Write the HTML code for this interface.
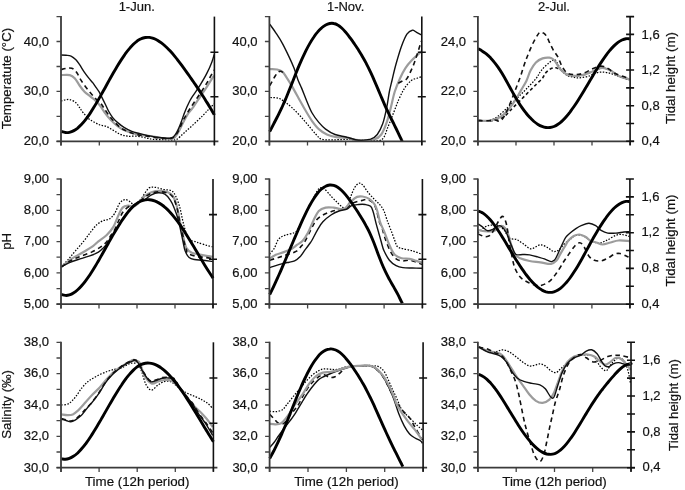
<!DOCTYPE html><html><head><meta charset="utf-8"><style>html,body{margin:0;padding:0;background:#fff;width:685px;height:490px;overflow:hidden}svg{display:block;filter:grayscale(1)}text{font-family:"Liberation Sans",sans-serif;fill:#111;stroke:#111;stroke-width:0.2px;font-size:13px}path{fill:none;stroke-linejoin:round}</style></head><body>
<svg width="685" height="490" viewBox="0 0 685 490">
<defs>
<clipPath id="c00"><rect x="58.0" y="13.6" width="159.4" height="127.7"/></clipPath>
<clipPath id="c01"><rect x="266.4" y="13.6" width="158.4" height="127.7"/></clipPath>
<clipPath id="c02"><rect x="474.9" y="13.6" width="158.2" height="127.7"/></clipPath>
<clipPath id="c10"><rect x="58.0" y="176.0" width="158.0" height="128.2"/></clipPath>
<clipPath id="c11"><rect x="266.4" y="176.0" width="159.0" height="128.2"/></clipPath>
<clipPath id="c12"><rect x="474.9" y="176.0" width="158.0" height="128.2"/></clipPath>
<clipPath id="c20"><rect x="58.0" y="339.3" width="158.4" height="128.4"/></clipPath>
<clipPath id="c21"><rect x="266.6" y="339.3" width="159.5" height="128.4"/></clipPath>
<clipPath id="c22"><rect x="474.9" y="339.3" width="159.1" height="128.4"/></clipPath>
</defs>
<text x="136.7" y="11.2" text-anchor="middle">1-Jun.</text>
<text x="345.6" y="11.2" text-anchor="middle">1-Nov.</text>
<text x="554.0" y="11.2" text-anchor="middle">2-Jul.</text>
<g clip-path="url(#c00)">
<path d="M61.0 101.0C61.7 100.8 63.5 100.2 65.0 100.0C66.5 99.8 68.0 99.1 69.8 99.6C71.6 100.0 74.3 101.4 75.9 102.7C77.5 104.0 78.4 106.0 79.6 107.6C80.8 109.2 81.4 110.6 83.0 112.5C84.6 114.4 87.0 117.3 89.0 119.0C91.0 120.7 93.2 121.5 95.0 122.5C96.8 123.5 98.3 124.4 100.0 125.0C101.7 125.6 103.5 125.5 105.3 126.1C107.1 126.7 108.8 127.7 110.6 128.7C112.4 129.7 114.1 130.9 115.9 131.9C117.7 132.9 119.2 133.9 121.2 134.6C123.2 135.3 124.9 135.9 127.6 136.2C130.3 136.5 134.0 135.9 137.2 136.2C140.4 136.5 143.9 137.5 146.6 138.0C149.2 138.5 150.4 139.0 153.1 139.3C155.8 139.6 160.2 139.5 163.0 139.6C165.8 139.7 167.8 139.9 169.6 140.0C171.3 140.1 172.3 140.0 173.5 139.9C174.7 139.8 175.1 140.6 176.9 139.3C178.8 138.1 181.7 135.0 184.6 132.4C187.5 129.8 191.2 126.6 194.2 123.8C197.2 121.0 200.4 118.0 202.8 115.6C205.2 113.2 206.7 111.3 208.6 109.4C210.5 107.5 213.1 104.9 214.0 104.0" stroke="#000" stroke-width="1.25" stroke-dasharray="1.5 1.5"/>
<path d="M61.0 75.1C62.5 75.1 67.5 74.6 69.8 75.1C72.1 75.6 73.1 76.5 74.7 78.2C76.3 79.9 78.0 83.2 79.6 85.5C81.2 87.8 82.7 89.9 84.5 91.7C86.3 93.5 88.8 95.1 90.6 96.6C92.4 98.1 93.9 99.1 95.5 100.6C97.1 102.1 98.6 103.7 100.2 105.8C101.8 107.9 103.6 111.1 105.3 113.4C107.0 115.7 108.6 117.7 110.6 119.7C112.5 121.7 114.9 123.9 117.0 125.6C119.1 127.3 120.9 128.6 123.4 129.8C125.9 131.0 128.6 132.1 131.8 133.0C135.0 133.9 139.5 134.6 142.5 135.1C145.5 135.6 147.1 135.6 150.0 136.0C152.9 136.4 157.0 137.4 160.0 137.8C163.0 138.2 166.0 138.5 168.0 138.6C170.0 138.7 170.9 138.6 172.0 138.4C173.1 138.2 173.7 138.1 174.5 137.5C175.3 136.9 176.0 135.9 176.8 134.7C177.6 133.5 178.5 131.7 179.4 130.1C180.3 128.5 181.1 126.8 182.0 124.9C182.9 123.1 184.1 120.7 185.0 119.0C185.9 117.3 186.1 116.5 187.5 114.5C188.9 112.5 191.3 109.8 193.4 106.8C195.5 103.8 197.9 100.1 200.1 96.8C202.3 93.5 204.5 90.3 206.8 86.8C209.1 83.2 212.8 77.4 214.0 75.5" stroke="#9c9c9c" stroke-width="2.2"/>
<path d="M61.0 69.6C62.3 69.3 66.5 68.2 68.6 68.1C70.7 68.0 72.1 68.1 73.5 69.0C74.9 69.9 76.0 71.5 77.2 73.3C78.4 75.1 79.4 77.5 80.8 79.8C82.2 82.1 84.1 84.8 85.7 87.0C87.3 89.2 89.0 91.1 90.6 93.0C92.2 94.9 93.9 96.8 95.5 98.5C97.1 100.2 99.0 101.5 100.4 103.0C101.8 104.5 102.4 105.7 103.8 107.8C105.2 109.9 107.2 113.1 109.0 115.5C110.8 117.9 112.9 120.3 114.9 122.4C116.9 124.5 118.9 126.6 121.2 128.2C123.5 129.8 126.0 130.8 128.7 131.9C131.4 133.0 134.0 133.9 137.2 134.6C140.4 135.3 144.3 135.7 147.8 136.2C151.3 136.7 154.6 137.4 158.0 137.8C161.4 138.2 165.8 138.5 168.0 138.6C170.2 138.7 170.4 138.7 171.5 138.3C172.6 138.0 173.5 137.5 174.5 136.5C175.5 135.5 176.5 134.2 177.5 132.5C178.5 130.8 179.6 128.5 180.5 126.5C181.4 124.5 182.2 122.1 183.0 120.5C183.8 118.9 183.9 118.9 185.1 116.9C186.3 114.9 188.1 111.6 190.1 108.5C192.1 105.4 194.6 101.8 196.8 98.5C199.0 95.2 201.6 91.5 203.5 88.4C205.4 85.3 206.8 83.2 208.5 80.1C210.2 77.0 213.1 71.7 214.0 70.0" stroke="#111" stroke-width="1.6" stroke-dasharray="4.6 3.6"/>
<path d="M61.0 55.0C61.8 55.0 64.3 55.1 66.0 55.3C67.7 55.5 69.3 55.4 71.0 56.1C72.7 56.9 74.5 58.4 75.9 59.8C77.3 61.2 78.2 62.7 79.6 64.7C81.0 66.8 82.8 69.9 84.3 72.1C85.8 74.3 87.2 76.1 88.6 77.9C90.0 79.7 91.6 81.2 92.9 82.9C94.2 84.6 95.3 86.4 96.4 87.9C97.5 89.4 98.5 90.7 99.3 92.1C100.1 93.5 100.4 94.4 101.4 96.4C102.4 98.4 104.1 101.8 105.3 104.2C106.5 106.6 107.3 108.8 108.5 111.0C109.7 113.2 111.1 115.6 112.7 117.6C114.3 119.6 116.0 121.2 118.0 122.9C120.0 124.6 122.1 126.3 124.4 127.7C126.7 129.1 129.3 130.4 131.8 131.4C134.3 132.4 136.6 132.8 139.3 133.5C142.0 134.2 144.9 135.0 147.8 135.6C150.8 136.2 154.3 136.9 157.0 137.3C159.7 137.7 162.2 137.8 164.0 138.0C165.8 138.2 166.8 138.3 168.0 138.3C169.2 138.3 170.0 138.3 170.9 138.0C171.8 137.7 172.6 137.5 173.5 136.7C174.4 135.9 175.2 134.8 176.1 133.4C177.0 132.0 177.9 130.1 178.8 128.1C179.7 126.1 180.6 123.8 181.4 121.6C182.2 119.4 182.8 117.3 183.7 115.0C184.6 112.7 185.6 109.9 186.7 107.5C187.8 105.1 188.9 102.6 190.0 100.5C191.1 98.4 191.7 97.7 193.4 95.1C195.1 92.5 197.9 88.7 200.1 85.1C202.3 81.5 204.9 77.2 206.8 73.4C208.8 69.6 210.6 65.5 211.8 62.3C213.0 59.1 213.8 55.8 214.2 54.5" stroke="#111" stroke-width="1.4"/>
<path d="M61.4 131.5C62.1 131.7 64.1 132.4 65.4 132.5C66.7 132.7 68.1 132.6 69.4 132.3C70.7 132.0 72.1 131.6 73.4 130.9C74.7 130.2 76.1 129.3 77.4 128.3C78.7 127.2 80.1 126.0 81.4 124.6C82.7 123.2 84.1 121.6 85.4 119.9C86.7 118.2 88.1 116.3 89.4 114.4C90.7 112.4 92.1 110.3 93.4 108.1C94.7 106.0 96.1 103.7 97.4 101.4C98.7 99.1 100.1 96.7 101.4 94.4C102.7 92.0 104.1 89.6 105.4 87.2C106.7 84.8 108.1 82.3 109.4 79.9C110.7 77.6 112.1 75.2 113.4 72.8C114.7 70.5 116.1 68.2 117.4 66.0C118.7 63.8 120.1 61.6 121.4 59.6C122.7 57.6 124.1 55.6 125.4 53.7C126.7 51.9 128.1 50.1 129.4 48.6C130.7 47.0 132.1 45.5 133.4 44.2C134.7 42.9 136.1 41.8 137.4 40.8C138.7 39.9 140.1 39.1 141.4 38.6C142.7 38.0 144.1 37.7 145.4 37.5C146.7 37.3 148.1 37.3 149.4 37.4C150.7 37.6 152.1 37.9 153.4 38.4C154.7 38.9 156.1 39.5 157.4 40.2C158.7 41.0 160.1 41.9 161.4 42.9C162.7 43.9 164.1 45.0 165.4 46.3C166.7 47.5 168.1 48.8 169.4 50.2C170.7 51.6 172.1 53.1 173.4 54.7C174.7 56.3 176.1 57.9 177.4 59.6C178.7 61.3 180.1 63.1 181.4 64.9C182.7 66.7 184.1 68.5 185.4 70.4C186.7 72.2 188.1 74.1 189.4 76.0C190.7 77.9 192.1 79.8 193.4 81.7C194.7 83.7 196.1 85.6 197.4 87.6C198.7 89.6 200.1 91.6 201.4 93.7C202.7 95.7 204.1 97.8 205.4 99.9C206.7 102.1 208.1 104.2 209.4 106.5C210.7 108.7 212.6 111.9 213.4 113.3C214.2 114.7 214.2 114.6 214.3 114.9" stroke="#000" stroke-width="2.9"/>
</g>
<path d="M61.0 16.0V145.5" stroke="#3a3a3a" stroke-width="1.8"/>
<path d="M56.5 141.3H61.0M56.5 116.4H61.0M56.5 91.4H61.0M56.5 66.5H61.0M56.5 41.5H61.0M56.5 16.6H61.0M61.0 141.3V145.5M99.3 141.3V145.5M137.7 141.3V145.5M176.1 141.3V145.5M214.4 141.3V145.5" stroke="#444" stroke-width="1.3"/>
<text x="49.1" y="45.5" text-anchor="end">40,0</text>
<text x="49.1" y="95.4" text-anchor="end">30,0</text>
<text x="49.1" y="145.3" text-anchor="end">20,0</text>
<path d="M56.5 141.3H218.4" stroke="#3a3a3a" stroke-width="1.8"/>
<path d="M214.4 16.6V145.3" stroke="#111" stroke-width="1.6"/>
<path d="M210.4 52.2H218.4M210.4 96.8H218.4" stroke="#111" stroke-width="1.6"/>
<g clip-path="url(#c01)">
<path d="M270.4 97.5C271.8 97.6 276.0 97.4 278.5 98.2C281.0 99.0 283.0 100.6 285.2 102.2C287.4 103.8 289.4 105.3 291.9 107.6C294.4 109.8 297.3 112.8 300.0 115.7C302.7 118.6 305.4 122.0 308.1 125.1C310.8 128.2 313.9 132.2 316.1 134.5C318.3 136.8 318.8 138.3 321.5 139.2C324.2 140.1 328.1 139.9 332.3 139.9C336.6 139.9 341.6 139.4 347.0 139.4C352.4 139.4 359.3 139.9 365.0 140.0C370.7 140.1 377.4 142.2 381.3 139.9C385.2 137.7 386.1 131.0 388.1 126.5C390.1 122.0 391.7 117.5 393.5 113.0C395.3 108.5 397.0 103.5 398.8 99.5C400.6 95.5 402.2 91.9 404.2 88.8C406.2 85.7 408.8 82.5 411.0 80.7C413.2 78.9 415.9 78.7 417.7 78.0C419.5 77.3 421.0 76.8 421.7 76.6" stroke="#000" stroke-width="1.25" stroke-dasharray="1.5 1.5"/>
<path d="M269.7 69.2C270.9 69.2 275.0 69.0 277.1 69.5C279.2 70.0 280.9 70.6 282.5 71.9C284.1 73.2 284.9 74.9 286.5 77.3C288.1 79.7 289.9 82.6 291.9 86.1C293.9 89.6 296.4 94.2 298.6 98.2C300.9 102.2 303.1 106.5 305.4 110.3C307.6 114.1 309.9 118.0 312.1 121.1C314.3 124.2 316.3 126.9 318.8 129.1C321.3 131.3 324.0 133.2 326.9 134.5C329.8 135.8 332.9 136.6 336.3 137.2C339.7 137.8 343.3 137.4 347.0 137.9C350.7 138.4 353.9 140.0 358.5 140.2C363.1 140.4 370.8 140.1 374.6 139.2C378.4 138.2 379.3 137.3 381.3 134.5C383.3 131.7 385.1 126.9 386.7 122.4C388.3 117.9 389.4 112.8 390.8 107.6C392.2 102.4 393.2 96.4 394.8 91.5C396.4 86.6 398.4 82.0 400.2 78.0C402.0 74.0 403.6 70.8 405.6 67.8C407.6 64.8 409.7 62.6 412.3 59.8C414.9 57.0 420.0 52.6 421.5 51.2" stroke="#9c9c9c" stroke-width="2.2"/>
<path d="M269.8 85.6C270.2 84.8 271.4 82.7 272.4 81.0C273.3 79.3 274.5 77.0 275.5 75.5C276.5 74.0 277.5 72.6 278.5 71.9C279.5 71.2 280.6 71.2 281.5 71.5C282.4 71.8 283.6 73.2 284.0 73.5" stroke="#111" stroke-width="1.6" stroke-dasharray="4.6 3.6"/>
<path d="M398.3 83.2C399.1 82.8 401.5 81.5 402.9 80.7C404.3 79.9 405.3 80.8 406.9 78.6C408.5 76.4 410.7 71.4 412.3 67.8C413.9 64.2 415.1 60.7 416.3 57.1C417.5 53.5 418.8 49.0 419.7 46.3C420.6 43.6 421.2 41.8 421.5 40.9" stroke="#111" stroke-width="1.6" stroke-dasharray="4.6 3.6"/>
<path d="M269.7 24.1C270.7 25.6 273.7 29.5 275.8 32.8C277.9 36.0 280.3 39.5 282.5 43.6C284.7 47.7 287.3 53.1 289.2 57.1C291.1 61.1 292.4 64.0 293.9 67.8C295.4 71.6 296.8 76.7 298.0 80.0C299.2 83.3 299.9 83.9 301.3 87.4C302.8 90.9 304.9 96.6 306.7 100.9C308.5 105.2 310.1 109.4 312.1 113.0C314.1 116.6 316.6 119.7 318.8 122.4C321.1 125.1 322.9 127.1 325.6 129.1C328.3 131.1 331.4 133.2 335.0 134.5C338.6 135.8 343.1 136.2 347.0 137.2C350.9 138.1 354.6 139.9 358.5 140.2C362.4 140.5 367.5 140.1 370.6 139.2C373.7 138.2 375.3 137.1 377.3 134.5C379.3 131.9 381.1 128.3 382.7 123.8C384.3 119.3 385.6 113.0 386.7 107.6C387.8 102.2 388.5 96.1 389.4 91.5C390.3 86.9 391.0 84.6 392.1 80.0C393.2 75.4 394.5 69.4 396.1 63.8C397.7 58.2 399.7 51.2 401.5 46.3C403.3 41.4 405.1 36.9 406.9 34.2C408.7 31.5 410.7 30.5 412.3 30.2C413.9 29.9 414.8 31.4 416.3 32.2C417.8 33.0 420.6 34.5 421.5 34.9" stroke="#111" stroke-width="1.4"/>
<path d="M269.7 131.6C270.4 130.3 272.4 126.5 273.7 123.9C275.0 121.3 276.4 118.7 277.7 116.1C279.0 113.4 280.4 110.7 281.7 107.9C283.0 105.0 284.4 102.0 285.7 98.9C287.0 95.8 288.4 92.5 289.7 89.1C291.0 85.8 292.4 82.3 293.7 78.9C295.0 75.6 296.4 72.1 297.7 68.9C299.0 65.7 300.4 62.5 301.7 59.6C303.0 56.6 304.4 53.8 305.7 51.1C307.0 48.4 308.4 45.9 309.7 43.6C311.0 41.3 312.4 39.1 313.7 37.2C315.0 35.2 316.4 33.4 317.7 31.9C319.0 30.3 320.4 28.9 321.7 27.8C323.0 26.6 324.4 25.7 325.7 25.0C327.0 24.3 328.4 23.8 329.7 23.5C331.0 23.3 332.4 23.2 333.7 23.5C335.0 23.7 336.4 24.2 337.7 25.0C339.0 25.7 340.4 26.8 341.7 28.0C343.0 29.2 344.4 30.7 345.7 32.2C347.0 33.8 348.4 35.5 349.7 37.3C351.0 39.1 352.4 41.0 353.7 42.9C355.0 44.8 356.4 46.8 357.7 48.8C359.0 50.9 360.4 53.0 361.7 55.3C363.0 57.6 364.4 59.9 365.7 62.4C367.0 64.9 368.4 67.5 369.7 70.3C371.0 73.1 372.4 76.0 373.7 79.1C375.0 82.1 376.4 85.3 377.7 88.4C379.0 91.6 380.4 94.8 381.7 97.9C383.0 101.0 384.4 104.1 385.7 107.1C387.0 110.0 388.4 112.8 389.7 115.6C391.0 118.4 392.4 121.0 393.7 123.7C395.0 126.4 396.4 129.1 397.7 131.8C399.0 134.6 400.9 138.6 401.7 140.2C402.4 141.8 402.1 141.1 402.2 141.3" stroke="#000" stroke-width="2.9"/>
</g>
<path d="M269.4 16.0V145.5" stroke="#3a3a3a" stroke-width="1.8"/>
<path d="M264.9 141.3H269.4M264.9 116.4H269.4M264.9 91.4H269.4M264.9 66.5H269.4M264.9 41.5H269.4M264.9 16.6H269.4M269.4 141.3V145.5M307.5 141.3V145.5M345.6 141.3V145.5M383.7 141.3V145.5M421.8 141.3V145.5" stroke="#444" stroke-width="1.3"/>
<text x="257.5" y="45.5" text-anchor="end">40,0</text>
<text x="257.5" y="95.4" text-anchor="end">30,0</text>
<text x="257.5" y="145.3" text-anchor="end">20,0</text>
<path d="M264.9 141.3H425.8" stroke="#3a3a3a" stroke-width="1.8"/>
<path d="M421.8 16.6V145.3" stroke="#111" stroke-width="1.6"/>
<path d="M417.8 52.2H425.8M417.8 96.8H425.8" stroke="#111" stroke-width="1.6"/>
<g clip-path="url(#c02)">
<path d="M478.0 121.0C479.6 121.0 484.4 121.7 487.5 121.0C490.6 120.3 493.5 119.2 496.9 117.0C500.2 114.8 504.2 110.7 507.6 107.6C511.0 104.5 514.0 101.3 517.1 98.2C520.2 95.1 523.4 92.0 526.5 88.8C529.6 85.5 533.4 81.8 535.9 78.7C538.4 75.7 539.0 73.2 541.3 70.5C543.5 67.8 547.1 64.3 549.4 62.5C551.6 60.7 553.4 59.5 554.8 59.8C556.2 60.1 556.8 62.6 558.0 64.5C559.2 66.4 560.4 69.1 562.0 71.0C563.6 72.9 565.8 74.8 567.5 75.8C569.2 76.8 570.7 76.4 572.3 76.8C573.9 77.2 575.2 77.8 577.0 77.9C578.8 78.0 580.9 77.6 583.0 77.3C585.1 77.0 587.5 76.6 589.4 76.0C591.3 75.4 592.2 74.2 594.4 73.5C596.6 72.8 599.6 72.0 602.5 72.0C605.4 72.0 608.8 72.9 611.9 73.8C615.0 74.7 618.4 76.5 621.3 77.5C624.2 78.5 628.0 79.6 629.4 80.0" stroke="#000" stroke-width="1.25" stroke-dasharray="1.5 1.5"/>
<path d="M478.0 120.5C480.0 120.6 486.8 121.2 490.0 121.0C493.2 120.8 494.7 119.7 497.0 119.0C499.3 118.3 501.2 118.7 503.6 117.0C506.1 115.3 509.0 111.7 511.7 109.0C514.4 106.3 517.1 103.6 519.8 100.9C522.5 98.2 525.1 95.5 527.8 92.8C530.5 90.1 533.4 87.2 535.9 84.7C538.4 82.2 541.0 79.9 542.6 78.0C544.2 76.1 544.1 74.6 545.3 73.2C546.4 71.8 548.2 70.4 549.5 69.5C550.8 68.6 551.9 68.3 553.0 68.0C554.1 67.7 555.1 67.7 556.0 67.8C556.9 67.9 557.7 68.5 558.5 68.8C559.3 69.1 559.4 68.6 560.7 69.5C562.0 70.4 564.2 73.0 566.1 74.0C568.0 75.0 570.2 75.3 572.3 75.6C574.3 75.9 576.4 75.8 578.4 75.6C580.4 75.4 582.5 75.2 584.5 74.6C586.5 74.0 588.9 72.9 590.7 72.2C592.5 71.5 593.5 71.0 595.5 70.3C597.5 69.6 600.0 67.8 602.5 67.8C605.0 67.8 607.8 69.2 610.5 70.5C613.2 71.8 615.4 74.4 618.6 75.9C621.8 77.4 627.7 78.7 629.5 79.3" stroke="#111" stroke-width="1.6" stroke-dasharray="3.2 2.6"/>
<path d="M478.0 120.5C479.6 120.5 484.6 121.0 487.5 120.8C490.4 120.5 493.0 119.8 495.5 119.0C498.0 118.2 500.1 117.4 502.3 115.7C504.6 114.0 506.8 111.7 509.0 109.0C511.2 106.3 513.7 102.7 515.7 99.5C517.7 96.3 519.3 93.2 521.1 90.1C522.9 87.0 524.9 84.0 526.5 80.7C528.1 77.4 528.9 73.5 530.5 70.5C532.1 67.5 533.9 64.5 535.9 62.5C537.9 60.5 540.4 59.2 542.6 58.4C544.9 57.6 547.6 57.5 549.4 57.7C551.2 57.9 552.3 58.5 553.5 59.5C554.7 60.5 555.4 61.9 556.5 63.5C557.6 65.1 558.4 67.3 560.0 69.1C561.6 70.8 564.1 72.9 566.1 74.0C568.1 75.1 570.2 75.3 572.3 75.6C574.3 75.9 576.4 75.8 578.4 75.6C580.4 75.4 582.5 75.2 584.5 74.6C586.5 74.0 588.9 72.9 590.7 72.2C592.5 71.5 593.5 71.0 595.5 70.3C597.5 69.6 600.0 67.8 602.5 67.8C605.0 67.8 607.8 69.2 610.5 70.5C613.2 71.8 615.4 74.4 618.6 75.9C621.8 77.4 627.7 78.7 629.5 79.3" stroke="#9c9c9c" stroke-width="2.2"/>
<path d="M478.0 120.5C479.6 120.5 484.7 120.9 487.5 120.8C490.3 120.7 492.9 120.0 495.0 120.0C497.1 120.0 498.3 121.8 500.0 121.0C501.7 120.2 503.1 118.6 505.0 115.0C506.9 111.4 509.5 105.0 511.7 99.5C513.9 94.0 516.9 85.9 518.4 82.0C519.9 78.1 519.8 78.5 520.6 76.3C521.4 74.0 522.2 71.0 523.0 68.5C523.8 66.0 524.8 63.1 525.5 61.1C526.2 59.1 526.4 58.8 527.2 56.8C528.0 54.8 529.1 51.9 530.2 49.4C531.3 46.9 532.6 44.0 533.9 41.5C535.2 39.0 537.1 35.6 538.2 34.1C539.3 32.6 539.4 32.4 540.3 32.3C541.2 32.1 542.6 32.5 543.7 33.2C544.8 33.9 545.8 35.1 546.8 36.6C547.8 38.1 548.3 40.0 549.4 42.3C550.5 44.6 552.0 47.8 553.4 50.3C554.8 52.8 556.5 54.4 558.0 57.1C559.5 59.8 560.5 63.8 562.1 66.5C563.7 69.2 565.3 71.9 567.5 73.2C569.7 74.5 572.8 74.6 575.5 74.6C578.2 74.6 580.9 74.1 583.6 73.2C586.3 72.3 589.2 70.3 591.7 69.2C594.2 68.1 596.4 67.0 598.4 66.5C600.4 66.0 602.0 66.0 603.8 66.5C605.6 67.0 607.4 68.1 609.2 69.2C611.0 70.3 612.6 72.1 614.6 73.2C616.6 74.3 618.8 75.0 621.3 75.9C623.8 76.8 628.1 78.1 629.5 78.6" stroke="#111" stroke-width="1.6" stroke-dasharray="4.6 3.6"/>
<path d="M478.0 48.6C478.7 49.0 480.7 50.0 482.0 50.9C483.3 51.7 484.7 52.7 486.0 53.7C487.3 54.8 488.7 56.0 490.0 57.3C491.3 58.7 492.7 60.1 494.0 61.8C495.3 63.4 496.7 65.2 498.0 67.1C499.3 69.0 500.7 71.1 502.0 73.3C503.3 75.5 504.7 77.9 506.0 80.2C507.3 82.6 508.7 85.1 510.0 87.5C511.3 89.9 512.7 92.3 514.0 94.7C515.3 97.0 516.7 99.3 518.0 101.4C519.3 103.6 520.7 105.7 522.0 107.6C523.3 109.5 524.7 111.3 526.0 113.0C527.3 114.7 528.7 116.2 530.0 117.6C531.3 119.0 532.7 120.3 534.0 121.5C535.3 122.6 536.7 123.6 538.0 124.4C539.3 125.2 540.7 125.9 542.0 126.4C543.3 126.9 544.7 127.3 546.0 127.5C547.3 127.7 548.7 127.7 550.0 127.5C551.3 127.4 552.7 127.0 554.0 126.5C555.3 126.0 556.7 125.2 558.0 124.3C559.3 123.5 560.7 122.4 562.0 121.1C563.3 119.9 564.7 118.5 566.0 117.0C567.3 115.5 568.7 113.8 570.0 112.1C571.3 110.3 572.7 108.4 574.0 106.5C575.3 104.6 576.7 102.5 578.0 100.4C579.3 98.3 580.7 96.1 582.0 94.0C583.3 91.8 584.7 89.5 586.0 87.3C587.3 85.0 588.7 82.8 590.0 80.5C591.3 78.3 592.7 76.0 594.0 73.8C595.3 71.6 596.7 69.4 598.0 67.3C599.3 65.1 600.7 63.1 602.0 61.1C603.3 59.1 604.7 57.1 606.0 55.3C607.3 53.5 608.7 51.8 610.0 50.2C611.3 48.7 612.7 47.2 614.0 45.9C615.3 44.6 616.7 43.4 618.0 42.4C619.3 41.4 620.7 40.6 622.0 40.0C623.3 39.4 624.7 38.9 626.0 38.7C627.3 38.5 629.2 38.8 629.8 38.8" stroke="#000" stroke-width="2.9"/>
</g>
<path d="M477.9 16.0V145.5" stroke="#3a3a3a" stroke-width="1.8"/>
<path d="M473.4 141.3H477.9M473.4 116.4H477.9M473.4 91.4H477.9M473.4 66.5H477.9M473.4 41.5H477.9M473.4 16.6H477.9M477.9 141.3V145.5M516.0 141.3V145.5M554.0 141.3V145.5M592.0 141.3V145.5M630.1 141.3V145.5" stroke="#444" stroke-width="1.3"/>
<text x="466.0" y="45.5" text-anchor="end">24,0</text>
<text x="466.0" y="95.4" text-anchor="end">22,0</text>
<text x="466.0" y="145.3" text-anchor="end">20,0</text>
<path d="M473.4 141.3H634.1" stroke="#3a3a3a" stroke-width="1.8"/>
<path d="M630.1 16.6V145.3" stroke="#111" stroke-width="1.6"/>
<text x="641.6" y="38.5">1,6</text>
<text x="641.6" y="74.1">1,2</text>
<text x="641.6" y="109.8">0,8</text>
<text x="641.6" y="145.4">0,4</text>
<text transform="translate(674.8 78.0) rotate(-90)" text-anchor="middle" style="font-size:13.3px">Tidal height (m)</text>
<path d="M626.1 16.6H634.1M626.1 34.4H634.1M626.1 52.2H634.1M626.1 70.0H634.1M626.1 87.9H634.1M626.1 105.7H634.1M626.1 123.5H634.1M626.1 141.3H634.1" stroke="#111" stroke-width="1.6"/>
<g clip-path="url(#c10)">
<path d="M61.4 266.9C62.6 265.5 66.5 261.5 68.8 258.8C71.1 256.1 73.0 253.7 75.5 250.8C78.0 247.9 81.1 244.4 83.6 241.3C86.1 238.2 88.1 235.3 90.3 232.5C92.5 229.7 94.8 226.5 97.0 224.5C99.2 222.5 101.8 221.3 103.8 220.4C105.8 219.5 107.3 220.2 109.1 219.1C110.9 218.0 112.7 216.4 114.5 213.7C116.3 211.0 118.1 205.2 119.9 202.9C121.7 200.6 123.5 199.7 125.3 199.6C127.1 199.5 129.2 201.2 130.7 202.2C132.1 203.2 132.8 205.6 134.0 205.6C135.2 205.6 136.7 203.3 138.0 202.0C139.3 200.7 140.2 199.8 142.0 197.5C143.8 195.2 146.6 189.8 148.8 188.1C151.1 186.4 153.0 187.2 155.5 187.4C158.0 187.6 160.9 188.9 163.6 189.5C166.3 190.1 169.6 189.7 171.6 190.8C173.6 191.9 174.3 193.5 175.7 196.2C177.0 198.9 178.6 203.2 179.7 207.0C180.8 210.8 181.5 215.3 182.4 219.1C183.3 222.9 184.0 226.4 185.1 229.8C186.2 233.2 187.3 237.3 189.1 239.3C190.9 241.3 194.3 241.2 195.9 241.8C197.5 242.4 196.8 242.1 198.6 242.7C200.4 243.3 204.3 244.7 206.6 245.4C208.9 246.1 211.5 246.5 212.5 246.7" stroke="#000" stroke-width="1.25" stroke-dasharray="1.5 1.5"/>
<path d="M61.4 266.9C63.1 265.5 68.0 261.1 71.5 258.8C75.0 256.5 78.6 254.9 82.2 252.8C85.8 250.7 90.3 248.0 93.0 246.1C95.7 244.2 96.2 243.1 98.4 241.3C100.7 239.5 104.0 237.6 106.5 235.2C109.0 232.8 111.2 230.5 113.2 227.1C115.2 223.7 117.0 218.2 118.6 215.0C120.2 211.8 121.0 209.2 122.6 207.6C124.2 206.0 126.2 205.8 128.0 205.6C129.8 205.4 131.7 206.6 133.4 206.3C135.1 206.0 136.1 205.3 138.0 203.6C139.9 201.9 142.4 198.1 144.7 196.2C146.9 194.3 149.0 193.1 151.5 192.2C154.0 191.3 156.8 190.8 159.5 190.8C162.2 190.8 165.3 191.3 167.6 192.2C169.8 193.1 171.4 193.7 173.0 196.2C174.6 198.7 175.9 203.0 177.0 207.0C178.1 211.0 178.8 216.2 179.7 220.4C180.6 224.7 181.6 228.9 182.4 232.5C183.2 236.1 183.7 239.4 184.4 242.0C185.1 244.6 185.3 246.3 186.5 248.1C187.7 249.9 189.3 251.7 191.8 252.8C194.3 253.9 197.8 254.1 201.3 254.8C204.8 255.5 210.8 256.5 212.7 256.8" stroke="#9c9c9c" stroke-width="2.2"/>
<path d="M61.4 266.9C63.1 265.8 68.2 262.0 71.5 260.2C74.8 258.4 77.6 257.6 80.9 256.2C84.2 254.8 88.2 253.7 91.6 252.1C95.0 250.5 98.6 248.4 101.1 246.7C103.6 245.0 104.9 243.8 106.5 242.0C108.1 240.2 109.1 238.2 110.5 236.0C111.9 233.8 113.6 231.7 115.0 229.0C116.4 226.3 117.7 222.8 119.0 220.0C120.3 217.2 121.3 214.2 123.0 212.0C124.7 209.8 126.8 207.8 129.0 206.5C131.2 205.2 133.4 205.6 136.0 204.0C138.6 202.4 142.1 199.0 144.7 197.2C147.3 195.4 149.0 194.1 151.5 193.2C154.0 192.3 156.8 191.8 159.5 191.8C162.2 191.8 165.3 192.3 167.6 193.2C169.8 194.1 171.4 194.7 173.0 197.2C174.6 199.7 175.9 204.0 177.0 208.0C178.1 212.0 178.8 217.2 179.7 221.4C180.6 225.7 181.6 229.9 182.4 233.5C183.2 237.1 183.7 240.2 184.4 243.0C185.1 245.8 185.9 248.2 186.5 250.0C187.1 251.8 186.2 252.5 187.8 253.5C189.4 254.5 193.0 255.5 195.9 256.2C198.8 256.9 202.5 257.1 205.3 257.5C208.1 257.9 211.5 258.6 212.7 258.8" stroke="#111" stroke-width="1.6" stroke-dasharray="4.6 3.6"/>
<path d="M61.4 266.9C62.6 266.2 66.0 264.1 68.8 262.9C71.6 261.7 74.8 260.6 78.2 259.5C81.6 258.4 85.6 257.4 89.0 256.2C92.4 255.0 95.9 253.6 98.4 252.1C100.9 250.6 102.2 249.0 103.8 247.4C105.4 245.8 106.4 244.6 107.8 242.7C109.2 240.8 110.6 238.2 112.0 236.0C113.4 233.8 114.2 232.3 116.0 229.5C117.8 226.7 120.4 222.4 122.6 219.1C124.8 215.8 127.1 212.2 129.3 209.6C131.5 207.0 133.4 205.3 136.0 203.6C138.6 201.9 142.1 201.1 144.7 199.6C147.3 198.1 149.2 195.9 151.5 194.8C153.8 193.7 156.0 192.9 158.2 192.8C160.4 192.7 162.9 193.0 164.9 194.2C166.9 195.4 168.7 197.8 170.3 200.2C171.9 202.5 173.0 204.9 174.3 208.3C175.7 211.7 177.3 216.4 178.4 220.4C179.5 224.4 180.3 228.9 181.1 232.5C181.9 236.1 182.4 238.9 183.1 242.0C183.8 245.1 184.1 248.2 185.1 250.8C186.1 253.4 187.5 256.1 189.1 257.5C190.7 258.9 192.2 259.1 194.5 259.5C196.8 259.9 199.6 259.9 202.6 260.2C205.6 260.5 211.0 261.3 212.7 261.5" stroke="#111" stroke-width="1.4"/>
<path d="M61.4 294.5C62.1 294.7 64.1 295.4 65.4 295.4C66.7 295.5 68.1 295.3 69.4 294.9C70.7 294.5 72.1 293.9 73.4 293.0C74.7 292.2 76.1 291.2 77.4 290.0C78.7 288.9 80.1 287.5 81.4 286.0C82.7 284.5 84.1 282.9 85.4 281.1C86.7 279.4 88.1 277.5 89.4 275.5C90.7 273.5 92.1 271.4 93.4 269.3C94.7 267.1 96.1 264.9 97.4 262.6C98.7 260.3 100.1 258.0 101.4 255.6C102.7 253.3 104.1 250.9 105.4 248.5C106.7 246.1 108.1 243.7 109.4 241.4C110.7 239.0 112.1 236.7 113.4 234.4C114.7 232.1 116.1 229.8 117.4 227.7C118.7 225.5 120.1 223.4 121.4 221.3C122.7 219.3 124.1 217.4 125.4 215.6C126.7 213.8 128.1 212.1 129.4 210.5C130.7 209.0 132.1 207.6 133.4 206.3C134.7 205.1 136.1 204.0 137.4 203.1C138.7 202.2 140.1 201.5 141.4 201.0C142.7 200.4 144.1 200.1 145.4 199.9C146.7 199.6 148.1 199.6 149.4 199.7C150.7 199.8 152.1 200.1 153.4 200.5C154.7 200.8 156.1 201.4 157.4 202.1C158.7 202.7 160.1 203.6 161.4 204.5C162.7 205.4 164.1 206.5 165.4 207.7C166.7 208.8 168.1 210.1 169.4 211.6C170.7 213.0 172.1 214.5 173.4 216.1C174.7 217.7 176.1 219.4 177.4 221.2C178.7 223.0 180.1 224.9 181.4 226.9C182.7 228.9 184.1 230.9 185.4 233.0C186.7 235.1 188.1 237.3 189.4 239.4C190.7 241.6 192.1 243.8 193.4 246.1C194.7 248.3 196.1 250.6 197.4 252.8C198.7 255.1 200.1 257.3 201.4 259.5C202.7 261.8 204.1 264.0 205.4 266.2C206.7 268.3 208.1 270.5 209.4 272.5C210.7 274.5 212.5 277.2 213.1 278.1" stroke="#000" stroke-width="2.9"/>
</g>
<path d="M61.0 178.4V308.4" stroke="#3a3a3a" stroke-width="1.8"/>
<path d="M56.5 304.2H61.0M56.5 288.6H61.0M56.5 272.9H61.0M56.5 257.2H61.0M56.5 241.6H61.0M56.5 225.9H61.0M56.5 210.3H61.0M56.5 194.7H61.0M56.5 179.0H61.0M61.0 304.2V308.4M99.0 304.2V308.4M137.0 304.2V308.4M175.0 304.2V308.4M213.0 304.2V308.4" stroke="#444" stroke-width="1.3"/>
<text x="49.1" y="182.8" text-anchor="end">9,00</text>
<text x="49.1" y="214.1" text-anchor="end">8,00</text>
<text x="49.1" y="245.4" text-anchor="end">7,00</text>
<text x="49.1" y="276.7" text-anchor="end">6,00</text>
<text x="49.1" y="308.0" text-anchor="end">5,00</text>
<path d="M56.5 304.2H217.0" stroke="#3a3a3a" stroke-width="1.8"/>
<path d="M213.0 179.0V308.2" stroke="#111" stroke-width="1.6"/>
<path d="M209.0 214.6H217.0M209.0 259.2H217.0" stroke="#111" stroke-width="1.6"/>
<g clip-path="url(#c11)">
<path d="M269.7 254.1C270.5 253.1 272.9 250.6 274.4 248.1C275.9 245.6 276.7 241.5 278.5 239.3C280.3 237.2 282.5 236.3 285.2 235.2C287.9 234.1 292.4 233.7 294.6 232.5C296.8 231.3 296.8 231.0 298.6 228.0C300.4 225.0 303.1 219.0 305.4 214.5C307.6 210.0 309.9 205.3 312.1 201.0C314.3 196.7 316.8 190.8 318.8 188.8C320.8 186.8 322.2 187.6 324.2 188.8C326.2 190.0 328.8 193.8 331.0 196.2C333.2 198.5 335.7 201.0 337.7 202.9C339.7 204.8 341.6 206.8 343.1 207.6C344.7 208.4 345.8 209.3 347.0 207.6C348.2 205.9 349.2 200.8 350.4 197.5C351.6 194.2 353.0 190.4 354.4 188.1C355.8 185.8 357.1 184.0 358.5 183.4C359.9 182.8 360.9 183.2 362.5 184.7C364.1 186.2 365.9 189.7 367.9 192.2C369.9 194.7 372.6 197.5 374.6 199.6C376.6 201.7 378.4 203.0 380.0 204.9C381.6 206.8 382.9 208.6 384.0 211.0C385.1 213.4 385.6 216.0 386.7 219.1C387.8 222.2 389.4 226.2 390.8 229.8C392.2 233.4 393.7 237.8 394.8 240.6C395.9 243.4 396.1 245.3 397.5 246.7C398.9 248.0 400.4 248.0 402.9 248.7C405.4 249.4 409.2 249.9 412.3 250.8C415.4 251.7 420.0 253.6 421.5 254.1" stroke="#000" stroke-width="1.25" stroke-dasharray="1.5 1.5"/>
<path d="M269.7 260.2C271.2 259.8 275.7 258.4 278.5 257.5C281.3 256.6 283.6 255.8 286.5 254.8C289.4 253.8 293.5 252.9 296.0 251.4C298.5 249.9 299.7 247.9 301.3 246.1C302.9 244.3 303.8 243.3 305.4 240.6C307.0 237.9 309.0 233.2 310.8 229.8C312.6 226.4 314.1 222.9 316.1 220.4C318.1 217.9 320.4 216.4 322.9 215.0C325.4 213.6 328.3 212.6 331.0 211.7C333.7 210.8 336.3 210.3 339.0 209.6C341.7 208.9 344.6 208.7 347.0 207.6C349.4 206.5 350.7 204.1 353.1 202.9C355.5 201.7 358.7 201.2 361.2 200.6C363.7 200.0 365.8 199.1 367.9 199.6C369.9 200.1 372.1 201.7 373.5 203.5C374.9 205.3 375.5 207.4 376.5 210.5C377.5 213.6 378.4 219.0 379.3 221.8C380.2 224.6 381.2 225.2 382.0 227.5C382.8 229.8 383.4 233.0 384.2 235.5C385.0 238.0 385.6 239.9 386.7 242.7C387.8 245.5 389.2 249.4 390.8 252.1C392.4 254.8 394.1 257.3 396.1 258.8C398.1 260.3 400.6 260.7 402.9 260.9C405.1 261.1 407.4 260.0 409.6 260.2C411.8 260.4 414.2 261.5 416.3 262.2C418.4 262.9 421.4 263.9 422.4 264.2" stroke="#111" stroke-width="1.6" stroke-dasharray="4.6 3.6"/>
<path d="M269.7 258.8C270.7 258.1 273.4 255.9 275.8 254.8C278.2 253.7 281.1 253.1 283.8 252.1C286.5 251.1 289.6 249.9 291.9 248.7C294.1 247.5 295.5 246.0 297.3 244.7C299.1 243.4 300.9 242.7 302.7 240.7C304.5 238.7 306.3 235.9 308.1 232.5C309.9 229.1 311.7 224.0 313.5 220.4C315.3 216.8 316.8 213.1 318.8 211.0C320.8 208.9 323.1 208.2 325.6 207.6C328.1 207.0 331.1 207.4 333.6 207.6C336.1 207.8 338.5 208.9 340.4 209.0C342.3 209.1 343.1 209.7 345.0 208.3C346.9 207.0 349.7 202.8 351.7 200.9C353.7 199.0 355.3 197.6 357.1 196.9C358.9 196.2 360.5 196.2 362.5 196.5C364.5 196.8 367.2 197.6 369.2 198.9C371.2 200.2 373.2 202.3 374.6 204.3C376.0 206.3 376.4 208.1 377.3 211.0C378.2 213.9 378.9 218.4 380.0 221.8C381.1 225.2 382.6 227.8 384.0 231.2C385.4 234.6 387.0 239.2 388.1 242.0C389.2 244.8 389.7 246.0 390.8 248.1C391.9 250.2 393.0 253.1 394.8 254.8C396.6 256.5 399.0 257.5 401.5 258.2C404.0 258.9 407.1 258.4 409.6 258.8C412.1 259.2 414.2 260.2 416.3 260.9C418.4 261.6 421.4 262.6 422.4 262.9" stroke="#9c9c9c" stroke-width="2.2"/>
<path d="M269.7 267.6C270.7 267.3 273.7 266.3 275.8 265.6C277.9 264.9 280.3 264.2 282.5 263.6C284.7 263.0 287.2 262.6 289.2 262.2C291.2 261.8 292.8 261.8 294.6 260.9C296.4 260.0 298.2 258.7 300.0 256.8C301.8 254.9 303.8 251.5 305.4 249.4C307.0 247.3 308.3 245.6 309.4 244.0C310.5 242.4 310.8 242.4 312.1 240.0C313.5 237.6 315.7 232.8 317.5 229.8C319.3 226.8 320.6 224.3 322.9 221.8C325.1 219.3 328.3 216.8 331.0 215.0C333.7 213.2 336.3 212.0 339.0 211.0C341.7 210.0 344.9 209.9 347.0 209.0C349.1 208.1 349.8 206.3 351.7 205.6C353.6 204.8 356.2 204.7 358.5 204.5C360.8 204.3 363.2 204.2 365.2 204.5C367.2 204.8 369.2 205.0 370.6 206.3C372.0 207.6 372.4 209.5 373.3 212.3C374.2 215.1 375.1 219.7 376.0 223.1C376.9 226.5 377.7 229.3 378.6 232.5C379.5 235.7 380.4 238.9 381.3 242.0C382.2 245.1 382.6 247.8 384.0 250.8C385.4 253.8 387.4 257.7 389.4 260.2C391.4 262.7 393.9 264.4 396.1 265.6C398.4 266.8 400.2 267.2 402.9 267.6C405.6 268.0 409.1 267.9 412.3 268.0C415.6 268.1 420.7 268.2 422.4 268.3" stroke="#111" stroke-width="1.4"/>
<path d="M269.7 294.5C270.4 293.1 272.4 289.1 273.7 286.3C275.0 283.5 276.4 280.6 277.7 277.7C279.0 274.7 280.4 271.7 281.7 268.6C283.0 265.5 284.4 262.4 285.7 259.3C287.0 256.1 288.4 253.0 289.7 249.8C291.0 246.6 292.4 243.5 293.7 240.3C295.0 237.2 296.4 234.1 297.7 231.0C299.0 227.9 300.4 224.9 301.7 221.9C303.0 219.0 304.4 216.1 305.7 213.4C307.0 210.6 308.4 208.0 309.7 205.5C311.0 203.1 312.4 200.7 313.7 198.7C315.0 196.6 316.4 194.7 317.7 193.0C319.0 191.4 320.4 190.0 321.7 188.8C323.0 187.7 324.4 186.8 325.7 186.2C327.0 185.5 328.4 185.2 329.7 185.0C331.0 184.9 332.4 185.0 333.7 185.4C335.0 185.8 336.4 186.4 337.7 187.2C339.0 188.1 340.4 189.2 341.7 190.5C343.0 191.8 344.4 193.3 345.7 194.9C347.0 196.5 348.4 198.3 349.7 200.1C351.0 201.9 352.4 203.8 353.7 205.8C355.0 207.7 356.4 209.7 357.7 211.8C359.0 213.9 360.4 216.0 361.7 218.2C363.0 220.4 364.4 222.7 365.7 225.1C367.0 227.6 368.4 230.0 369.7 232.9C371.0 235.8 372.4 239.0 373.7 242.3C375.0 245.7 376.4 249.5 377.7 253.0C379.0 256.5 380.4 260.0 381.7 263.2C383.0 266.4 384.4 269.4 385.7 272.2C387.0 275.0 388.4 277.4 389.7 279.9C391.0 282.3 392.4 284.5 393.7 286.9C395.0 289.3 396.4 291.5 397.7 294.1C399.0 296.6 400.9 300.7 401.7 302.2C402.4 303.7 402.1 303.1 402.2 303.3" stroke="#000" stroke-width="2.9"/>
</g>
<path d="M269.4 178.4V308.4" stroke="#3a3a3a" stroke-width="1.8"/>
<path d="M264.9 304.2H269.4M264.9 288.6H269.4M264.9 272.9H269.4M264.9 257.2H269.4M264.9 241.6H269.4M264.9 225.9H269.4M264.9 210.3H269.4M264.9 194.7H269.4M264.9 179.0H269.4M269.4 304.2V308.4M307.6 304.2V308.4M345.9 304.2V308.4M384.1 304.2V308.4M422.4 304.2V308.4" stroke="#444" stroke-width="1.3"/>
<text x="257.5" y="182.8" text-anchor="end">9,00</text>
<text x="257.5" y="214.1" text-anchor="end">8,00</text>
<text x="257.5" y="245.4" text-anchor="end">7,00</text>
<text x="257.5" y="276.7" text-anchor="end">6,00</text>
<text x="257.5" y="308.0" text-anchor="end">5,00</text>
<path d="M264.9 304.2H426.4" stroke="#3a3a3a" stroke-width="1.8"/>
<path d="M422.4 179.0V308.2" stroke="#111" stroke-width="1.6"/>
<path d="M418.4 214.6H426.4M418.4 259.2H426.4" stroke="#111" stroke-width="1.6"/>
<g clip-path="url(#c12)">
<path d="M478.0 232.6C479.6 231.5 484.1 226.9 487.5 225.8C490.9 224.7 495.4 225.1 498.2 225.8C500.9 226.5 502.1 227.9 504.0 230.0C505.9 232.1 507.4 236.5 509.4 238.1C511.4 239.7 514.0 238.5 516.2 239.4C518.5 240.3 520.4 241.9 522.9 243.5C525.4 245.1 528.1 248.6 531.0 248.8C533.9 249.0 537.5 244.9 540.4 244.8C543.3 244.7 546.4 247.1 548.5 248.2C550.6 249.3 551.8 250.8 553.0 251.3C554.2 251.8 554.5 251.6 555.5 251.3C556.5 251.1 557.6 251.0 559.1 249.8C560.6 248.6 562.6 245.5 564.2 244.0C565.8 242.5 567.0 242.1 568.6 240.8C570.2 239.6 571.9 237.5 573.7 236.5C575.5 235.5 577.5 234.9 579.5 235.0C581.5 235.1 583.6 236.0 585.4 237.0C587.2 238.0 588.7 240.1 590.5 241.0C592.3 241.9 594.7 242.3 596.3 242.7C597.9 243.1 598.7 243.4 600.0 243.2C601.3 243.0 602.7 242.1 604.0 241.5C605.3 240.9 606.0 240.8 607.8 239.8C609.6 238.9 612.4 236.7 614.6 235.8C616.9 234.9 618.8 234.3 621.3 234.4C623.8 234.5 628.0 236.1 629.4 236.4" stroke="#000" stroke-width="1.25" stroke-dasharray="1.5 1.5"/>
<path d="M478.0 229.9C479.1 230.1 482.3 231.0 484.8 231.2C487.3 231.4 490.9 231.6 492.9 231.2C494.9 230.8 495.7 229.9 497.0 229.0C498.3 228.1 499.6 226.2 500.9 226.0C502.2 225.8 503.8 226.7 505.0 228.0C506.2 229.3 507.1 231.4 508.1 234.0C509.1 236.6 509.7 240.1 510.8 243.5C511.9 246.9 513.2 251.7 514.8 254.2C516.4 256.7 517.7 257.2 520.2 258.3C522.7 259.4 526.2 260.3 529.6 261.0C533.0 261.7 536.8 261.8 540.4 262.3C544.0 262.8 548.4 264.2 551.1 263.9C553.8 263.6 555.0 262.0 556.5 260.5C558.0 259.0 558.4 257.3 559.8 254.9C561.2 252.5 563.5 248.6 565.0 246.2C566.5 243.8 567.1 242.0 568.6 240.3C570.1 238.6 571.9 237.0 573.7 236.0C575.5 235.0 577.5 234.4 579.5 234.5C581.5 234.6 583.6 235.7 585.4 236.7C587.2 237.7 588.7 239.7 590.5 240.7C592.3 241.7 594.3 241.9 596.3 242.5C598.3 243.1 600.1 244.5 602.5 244.5C604.9 244.5 607.8 243.2 610.5 242.5C613.2 241.8 615.5 240.7 618.6 240.5C621.8 240.3 627.6 241.0 629.4 241.1" stroke="#9c9c9c" stroke-width="2.2"/>
<path d="M478.0 233.9C479.1 234.3 482.8 236.4 484.8 236.6C486.8 236.8 488.5 236.7 490.2 235.3C491.9 233.9 493.7 230.2 495.0 228.0C496.3 225.8 497.0 223.7 498.2 221.8C499.4 219.9 501.1 216.5 502.3 216.4C503.5 216.3 504.6 218.7 505.5 221.0C506.4 223.3 506.9 226.2 507.5 230.0C508.1 233.8 508.6 239.0 509.4 243.5C510.2 248.0 511.2 252.9 512.1 256.9C513.0 260.9 513.4 264.3 514.8 267.7C516.1 271.1 518.2 274.8 520.2 277.1C522.2 279.5 524.4 280.5 526.9 281.8C529.4 283.1 532.5 284.6 535.0 285.2C537.5 285.8 539.2 285.9 541.7 285.2C544.2 284.5 547.3 283.1 549.8 281.1C552.3 279.1 554.2 276.2 556.5 273.1C558.8 270.0 561.5 265.1 563.3 262.3C565.1 259.5 565.7 258.8 567.5 256.2C569.3 253.6 572.2 248.9 574.2 246.7C576.2 244.4 578.0 242.8 579.6 242.7C581.2 242.6 582.0 243.8 583.6 246.1C585.2 248.3 587.2 253.8 589.0 256.2C590.8 258.6 592.4 259.4 594.4 260.2C596.4 261.0 598.9 261.2 601.1 260.9C603.3 260.6 605.5 259.3 607.8 258.2C610.0 257.1 612.6 254.9 614.6 254.1C616.6 253.3 618.0 253.2 620.0 253.5C622.0 253.8 625.1 255.5 626.7 256.2C628.3 256.9 629.0 257.3 629.5 257.5" stroke="#111" stroke-width="1.6" stroke-dasharray="4.6 3.6"/>
<path d="M478.0 223.9C478.7 224.3 480.5 225.5 482.1 226.6C483.7 227.7 485.7 230.2 487.5 230.7C489.3 231.1 491.2 230.0 492.8 229.3C494.4 228.6 495.5 227.2 496.9 226.6C498.2 226.0 499.3 225.0 500.9 226.0C502.5 227.0 504.5 229.3 506.3 232.7C508.1 236.0 510.1 242.5 511.7 246.1C513.3 249.7 513.8 252.8 515.7 254.2C517.6 255.6 520.6 254.4 522.9 254.5C525.2 254.6 527.1 254.5 529.6 254.9C532.1 255.3 535.2 256.2 537.7 256.9C540.2 257.6 542.2 258.1 544.4 258.9C546.6 259.7 549.4 261.4 551.1 261.6C552.8 261.8 553.5 260.9 554.5 260.0C555.5 259.1 555.8 258.3 556.9 256.0C558.0 253.7 559.8 249.3 561.3 246.2C562.8 243.1 564.2 239.6 565.7 237.4C567.2 235.2 568.4 234.5 570.1 233.0C571.8 231.5 574.0 229.9 575.9 228.6C577.8 227.3 579.5 226.3 581.7 225.4C583.9 224.5 586.7 223.2 589.0 223.3C591.3 223.4 593.7 224.5 595.7 225.7C597.7 226.9 599.1 229.2 601.1 230.4C603.1 231.6 605.3 232.7 607.8 233.1C610.3 233.5 613.2 233.3 615.9 233.1C618.6 232.9 621.8 232.2 624.0 232.0C626.2 231.8 628.5 231.8 629.4 231.7" stroke="#111" stroke-width="1.4"/>
<path d="M478.0 211.1C478.7 211.4 480.7 211.9 482.0 212.6C483.3 213.4 484.7 214.4 486.0 215.5C487.3 216.7 488.7 218.0 490.0 219.5C491.3 221.0 492.7 222.7 494.0 224.5C495.3 226.3 496.7 228.2 498.0 230.2C499.3 232.2 500.7 234.3 502.0 236.5C503.3 238.6 504.7 240.8 506.0 243.0C507.3 245.3 508.7 247.5 510.0 249.8C511.3 252.0 512.7 254.3 514.0 256.4C515.3 258.6 516.7 260.8 518.0 262.8C519.3 264.9 520.7 267.0 522.0 268.9C523.3 270.8 524.7 272.7 526.0 274.5C527.3 276.2 528.7 277.9 530.0 279.5C531.3 281.0 532.7 282.5 534.0 283.8C535.3 285.1 536.7 286.3 538.0 287.4C539.3 288.4 540.7 289.3 542.0 290.1C543.3 290.8 544.7 291.4 546.0 291.8C547.3 292.1 548.7 292.4 550.0 292.4C551.3 292.4 552.7 292.2 554.0 291.8C555.3 291.4 556.7 290.8 558.0 290.0C559.3 289.2 560.7 288.2 562.0 287.0C563.3 285.8 564.7 284.4 566.0 282.9C567.3 281.4 568.7 279.8 570.0 278.0C571.3 276.2 572.7 274.2 574.0 272.1C575.3 270.1 576.7 267.9 578.0 265.7C579.3 263.4 580.7 261.0 582.0 258.7C583.3 256.3 584.7 253.8 586.0 251.4C587.3 249.0 588.7 246.5 590.0 244.0C591.3 241.6 592.7 239.2 594.0 236.8C595.3 234.5 596.7 232.2 598.0 230.0C599.3 227.8 600.7 225.6 602.0 223.6C603.3 221.5 604.7 219.6 606.0 217.8C607.3 215.9 608.7 214.2 610.0 212.6C611.3 211.1 612.7 209.6 614.0 208.3C615.3 207.1 616.7 205.9 618.0 205.0C619.3 204.0 620.7 203.2 622.0 202.6C623.3 202.0 624.7 201.6 626.0 201.4C627.3 201.2 629.2 201.5 629.8 201.5" stroke="#000" stroke-width="2.9"/>
</g>
<path d="M477.9 178.4V308.4" stroke="#3a3a3a" stroke-width="1.8"/>
<path d="M473.4 304.2H477.9M473.4 288.6H477.9M473.4 272.9H477.9M473.4 257.2H477.9M473.4 241.6H477.9M473.4 225.9H477.9M473.4 210.3H477.9M473.4 194.7H477.9M473.4 179.0H477.9M477.9 304.2V308.4M515.9 304.2V308.4M553.9 304.2V308.4M591.9 304.2V308.4M629.9 304.2V308.4" stroke="#444" stroke-width="1.3"/>
<text x="466.0" y="182.8" text-anchor="end">9,00</text>
<text x="466.0" y="214.1" text-anchor="end">8,00</text>
<text x="466.0" y="245.4" text-anchor="end">7,00</text>
<text x="466.0" y="276.7" text-anchor="end">6,00</text>
<text x="466.0" y="308.0" text-anchor="end">5,00</text>
<path d="M473.4 304.2H633.9" stroke="#3a3a3a" stroke-width="1.8"/>
<path d="M629.9 179.0V308.2" stroke="#111" stroke-width="1.6"/>
<text x="641.4" y="200.6">1,6</text>
<text x="641.4" y="236.4">1,2</text>
<text x="641.4" y="272.1">0,8</text>
<text x="641.4" y="307.9">0,4</text>
<text transform="translate(674.8 240.5) rotate(-90)" text-anchor="middle" style="font-size:13.3px">Tidal height (m)</text>
<path d="M625.9 179.0H633.9M625.9 196.9H633.9M625.9 214.8H633.9M625.9 232.7H633.9M625.9 250.5H633.9M625.9 268.4H633.9M625.9 286.3H633.9M625.9 304.2H633.9" stroke="#111" stroke-width="1.6"/>
<g clip-path="url(#c20)">
<path d="M61.4 405.0C62.6 404.8 66.5 405.0 68.8 403.6C71.1 402.2 73.3 399.6 75.5 396.9C77.7 394.2 80.0 390.2 82.2 387.5C84.5 384.8 86.3 382.7 89.0 380.7C91.7 378.7 95.3 376.9 98.4 375.3C101.5 373.7 105.1 372.3 107.8 371.3C110.5 370.3 112.5 369.8 114.5 369.3C116.5 368.9 118.1 369.2 119.9 368.6C121.7 368.0 123.5 366.8 125.3 365.9C127.1 365.0 128.9 363.6 130.7 363.2C132.5 362.8 134.9 363.2 136.1 363.2C137.3 363.2 137.0 361.4 138.0 363.0C139.0 364.6 140.7 369.0 142.0 372.6C143.3 376.2 144.5 381.9 146.1 384.8C147.7 387.7 149.5 390.1 151.5 390.1C153.5 390.1 156.0 386.2 158.2 384.8C160.4 383.4 162.7 381.8 164.9 381.4C167.1 380.9 169.3 381.1 171.6 382.1C173.8 383.1 175.9 385.7 178.4 387.5C180.9 389.3 183.6 391.2 186.5 392.8C189.4 394.4 193.2 395.7 195.9 396.9C198.6 398.1 200.6 399.1 202.6 400.2C204.6 401.3 206.3 402.2 208.0 403.6C209.7 405.0 211.8 407.6 212.5 408.4" stroke="#000" stroke-width="1.25" stroke-dasharray="1.5 1.5"/>
<path d="M61.4 414.4C62.4 414.5 65.5 415.1 67.4 415.1C69.3 415.1 71.0 415.2 72.8 414.4C74.6 413.6 76.4 412.0 78.2 410.4C80.0 408.8 81.4 407.0 83.6 404.5C85.8 402.0 88.9 398.3 91.6 395.5C94.3 392.7 97.0 390.4 99.7 387.5C102.4 384.6 105.3 380.7 107.8 378.0C110.3 375.3 112.2 373.2 114.5 371.3C116.8 369.4 119.0 368.1 121.3 366.6C123.5 365.2 126.0 363.7 128.0 362.6C130.0 361.5 131.8 360.1 133.4 359.9C135.0 359.7 136.3 360.6 137.4 361.2C138.5 361.8 138.8 360.7 140.0 363.2C141.2 365.7 142.8 372.6 144.7 376.0C146.6 379.4 149.2 382.5 151.5 383.4C153.8 384.3 156.0 382.0 158.2 381.4C160.4 380.8 162.7 380.1 164.9 380.0C167.1 379.9 169.3 379.6 171.6 380.7C173.8 381.8 176.2 384.6 178.4 386.8C180.7 389.1 182.9 391.4 185.1 394.2C187.3 397.0 189.3 400.7 191.8 403.6C194.3 406.5 197.4 409.0 199.9 411.5C202.4 414.0 204.4 416.2 206.6 418.8C208.8 421.4 211.8 425.6 212.8 427.0" stroke="#9c9c9c" stroke-width="2.2"/>
<path d="M61.4 418.5C62.2 418.7 64.5 419.4 66.1 419.8C67.7 420.2 69.2 421.1 70.8 421.0C72.4 420.9 73.8 420.1 75.5 419.0C77.2 417.9 79.3 416.1 80.9 414.5C82.5 412.9 83.3 411.4 84.9 409.7C86.5 408.0 88.0 407.0 90.3 404.3C92.5 401.6 95.9 397.1 98.4 393.5C100.9 389.9 102.9 385.8 105.1 382.7C107.3 379.6 109.5 377.0 111.8 374.6C114.0 372.2 116.6 370.3 118.6 368.6C120.6 366.9 122.0 365.7 124.0 364.5C126.0 363.3 128.9 362.0 130.7 361.2C132.5 360.4 133.5 359.7 134.7 359.8C135.9 359.9 136.6 360.0 138.0 362.0C139.4 364.0 141.4 368.9 143.4 372.0C145.4 375.1 148.1 379.4 150.1 380.7C152.1 382.0 153.5 380.5 155.5 380.0C157.5 379.5 159.9 378.1 162.2 377.6C164.4 377.2 167.0 377.1 169.0 377.3C171.0 377.5 172.7 377.4 174.3 378.7C175.9 380.0 176.6 382.7 178.4 385.4C180.2 388.1 182.9 392.0 185.1 394.8C187.3 397.6 189.6 399.3 191.8 402.3C194.1 405.3 196.3 409.7 198.6 413.0C200.8 416.3 203.0 418.7 205.3 422.0C207.7 425.3 211.5 430.8 212.7 432.6" stroke="#111" stroke-width="1.6" stroke-dasharray="4.6 3.6"/>
<path d="M61.4 419.2C62.2 419.4 64.5 420.1 66.1 420.5C67.7 420.9 69.2 421.9 70.8 421.8C72.4 421.7 73.8 420.8 75.5 419.8C77.2 418.8 79.3 417.2 80.9 415.8C82.5 414.4 83.6 412.8 84.9 411.1C86.2 409.4 87.9 407.1 89.0 405.7C90.1 404.3 90.0 404.9 91.6 403.0C93.2 401.1 96.2 397.5 98.4 394.2C100.7 390.9 102.9 386.5 105.1 383.4C107.3 380.2 109.5 377.6 111.8 375.3C114.0 373.0 116.6 371.0 118.6 369.3C120.6 367.6 122.0 366.4 124.0 365.2C126.0 364.0 128.9 362.7 130.7 361.9C132.5 361.1 133.5 360.4 134.7 360.5C135.9 360.6 136.6 360.6 138.0 362.6C139.4 364.6 141.4 369.5 143.4 372.6C145.4 375.7 148.1 380.0 150.1 381.4C152.1 382.8 153.5 381.2 155.5 380.7C157.5 380.2 159.9 378.8 162.2 378.3C164.4 377.9 167.0 377.8 169.0 378.0C171.0 378.2 172.7 378.0 174.3 379.4C175.9 380.8 176.6 383.4 178.4 386.1C180.2 388.8 182.9 392.7 185.1 395.5C187.3 398.3 189.6 399.9 191.8 403.0C194.1 406.1 196.3 410.4 198.6 413.8C200.8 417.2 203.0 419.6 205.3 423.2C207.7 426.8 211.5 433.3 212.7 435.3" stroke="#111" stroke-width="1.4"/>
<path d="M61.4 458.9C62.1 458.9 64.1 459.4 65.4 459.3C66.7 459.3 68.1 458.9 69.4 458.4C70.7 457.9 72.1 457.2 73.4 456.3C74.7 455.5 76.1 454.4 77.4 453.2C78.7 451.9 80.1 450.6 81.4 449.0C82.7 447.5 84.1 445.9 85.4 444.1C86.7 442.3 88.1 440.5 89.4 438.5C90.7 436.5 92.1 434.5 93.4 432.3C94.7 430.2 96.1 428.0 97.4 425.8C98.7 423.5 100.1 421.2 101.4 418.9C102.7 416.6 104.1 414.3 105.4 411.9C106.7 409.6 108.1 407.2 109.4 404.9C110.7 402.6 112.1 400.3 113.4 398.0C114.7 395.8 116.1 393.5 117.4 391.4C118.7 389.3 120.1 387.1 121.4 385.2C122.7 383.2 124.1 381.2 125.4 379.4C126.7 377.6 128.1 375.9 129.4 374.4C130.7 372.8 132.1 371.4 133.4 370.1C134.7 368.8 136.1 367.7 137.4 366.7C138.7 365.8 140.1 365.0 141.4 364.4C142.7 363.8 144.1 363.4 145.4 363.2C146.7 363.0 148.1 363.0 149.4 363.1C150.7 363.2 152.1 363.5 153.4 363.9C154.7 364.3 156.1 364.9 157.4 365.6C158.7 366.3 160.1 367.1 161.4 368.1C162.7 369.1 164.1 370.2 165.4 371.4C166.7 372.6 168.1 373.9 169.4 375.3C170.7 376.7 172.1 378.2 173.4 379.8C174.7 381.4 176.1 383.1 177.4 384.9C178.7 386.6 180.1 388.5 181.4 390.4C182.7 392.3 184.1 394.3 185.4 396.3C186.7 398.3 188.1 400.4 189.4 402.5C190.7 404.6 192.1 406.7 193.4 408.9C194.7 411.0 196.1 413.2 197.4 415.4C198.7 417.6 200.1 419.8 201.4 422.1C202.7 424.3 204.1 426.5 205.4 428.7C206.7 430.9 208.1 433.1 209.4 435.3C210.7 437.4 212.7 440.6 213.4 441.7" stroke="#000" stroke-width="2.9"/>
</g>
<path d="M61.0 341.7V471.9" stroke="#3a3a3a" stroke-width="1.8"/>
<path d="M56.5 467.7H61.0M56.5 452.0H61.0M56.5 436.4H61.0M56.5 420.7H61.0M56.5 405.0H61.0M56.5 389.3H61.0M56.5 373.6H61.0M56.5 358.0H61.0M56.5 342.3H61.0M61.0 467.7V471.9M99.1 467.7V471.9M137.2 467.7V471.9M175.3 467.7V471.9M213.4 467.7V471.9" stroke="#444" stroke-width="1.3"/>
<text x="49.1" y="346.1" text-anchor="end">38,0</text>
<text x="49.1" y="377.4" text-anchor="end">36,0</text>
<text x="49.1" y="408.8" text-anchor="end">34,0</text>
<text x="49.1" y="440.2" text-anchor="end">32,0</text>
<text x="49.1" y="471.5" text-anchor="end">30,0</text>
<path d="M56.5 467.7H217.4" stroke="#3a3a3a" stroke-width="1.8"/>
<path d="M213.4 342.3V471.7" stroke="#111" stroke-width="1.6"/>
<path d="M209.4 378.0H217.4M209.4 423.2H217.4" stroke="#111" stroke-width="1.6"/>
<g clip-path="url(#c21)">
<path d="M269.7 411.1C270.7 411.2 273.7 411.9 275.8 411.7C277.9 411.5 280.7 410.8 282.5 409.7C284.3 408.6 284.9 406.9 286.5 405.0C288.1 403.1 289.9 400.7 291.9 398.2C293.9 395.7 296.4 392.8 298.6 390.1C300.9 387.4 303.1 384.6 305.4 382.1C307.6 379.6 309.9 377.2 312.1 375.3C314.3 373.4 316.8 371.7 318.8 370.6C320.8 369.5 322.2 369.1 324.2 368.9C326.2 368.7 328.8 369.2 331.0 369.3C333.2 369.4 335.0 369.8 337.7 369.3C340.4 368.9 343.5 367.2 347.0 366.6C350.5 366.0 354.4 366.0 358.5 365.9C362.6 365.8 368.5 365.8 371.9 365.9C375.2 366.0 376.6 365.7 378.6 366.6C380.6 367.5 382.4 369.2 384.0 371.3C385.6 373.4 386.8 376.5 388.1 379.4C389.5 382.3 390.8 385.9 392.1 388.8C393.4 391.7 394.9 394.2 396.1 396.9C397.3 399.6 398.4 402.6 399.5 405.0C400.6 407.4 401.0 408.7 402.9 411.1C404.8 413.5 408.5 416.7 411.0 419.2C413.5 421.7 415.8 424.1 417.7 425.9C419.6 427.7 421.6 429.2 422.4 429.9" stroke="#000" stroke-width="1.25" stroke-dasharray="1.5 1.5"/>
<path d="M269.7 414.4C270.5 415.2 272.9 417.7 274.4 419.2C275.9 420.7 276.9 422.5 278.5 423.2C280.1 423.9 282.0 424.3 283.8 423.2C285.6 422.1 287.4 418.8 289.2 416.5C291.0 414.2 293.0 411.7 294.6 409.7C296.2 407.7 297.0 406.9 298.6 404.3C300.2 401.7 302.0 397.6 304.0 394.2C306.0 390.8 308.3 387.0 310.8 384.1C313.3 381.2 316.6 378.3 318.8 376.7C321.0 375.1 322.4 374.6 324.2 374.7C326.0 374.8 327.8 377.1 329.6 377.4C331.4 377.7 333.2 377.5 335.0 376.7C336.8 375.9 338.6 374.1 340.4 372.6C342.2 371.1 343.9 368.9 345.8 367.9C347.7 366.9 349.6 366.9 351.7 366.6C353.8 366.3 355.6 366.1 358.5 365.9C361.4 365.7 366.5 365.3 369.2 365.6C371.9 365.9 372.8 366.7 374.6 367.9C376.4 369.1 378.2 370.5 380.0 372.6C381.8 374.7 383.8 378.0 385.4 380.7C387.0 383.4 388.0 386.1 389.4 388.8C390.8 391.5 392.3 394.6 393.5 397.0C394.7 399.4 395.6 401.6 396.5 403.0C397.4 404.4 397.5 404.1 398.8 405.7C400.1 407.3 402.4 410.4 404.2 412.4C406.0 414.4 407.8 415.3 409.6 417.8C411.4 420.3 413.2 424.1 415.0 427.2C416.8 430.3 419.2 434.5 420.4 436.6C421.6 438.7 422.1 439.4 422.4 440.0" stroke="#111" stroke-width="1.6" stroke-dasharray="4.6 3.6"/>
<path d="M269.7 447.4C270.5 446.5 272.9 443.9 274.4 442.0C275.9 440.1 277.1 437.9 278.5 436.0C279.9 434.1 281.2 432.3 282.5 430.5C283.8 428.7 285.1 426.9 286.5 425.2C287.9 423.4 289.2 421.8 290.6 420.0C292.0 418.2 293.3 416.4 294.6 414.4C295.9 412.4 297.2 410.0 298.6 407.8C300.0 405.6 301.4 403.2 302.7 401.0C304.0 398.8 305.3 396.5 306.7 394.5C308.1 392.5 309.4 390.6 310.8 388.8C312.2 387.0 313.5 385.4 314.8 383.8C316.1 382.2 317.4 380.6 318.9 379.4C320.4 378.2 322.2 377.4 324.0 376.5C325.8 375.6 327.8 374.8 329.6 374.0C331.4 373.2 333.2 372.5 335.0 371.8C336.8 371.1 338.6 370.6 340.4 370.0C342.2 369.4 344.1 368.6 346.0 368.0C347.9 367.4 349.6 367.0 351.7 366.6C353.8 366.2 355.6 366.1 358.5 365.9C361.4 365.7 366.5 365.3 369.2 365.6C371.9 365.9 372.8 366.7 374.6 367.9C376.4 369.1 378.2 370.5 380.0 372.6C381.8 374.7 383.8 378.0 385.4 380.7C387.0 383.4 388.0 385.9 389.4 388.8C390.8 391.7 392.5 395.7 393.5 398.2C394.5 400.7 394.6 401.4 395.5 404.0C396.4 406.6 397.4 410.2 398.8 413.8C400.2 417.4 402.4 422.5 404.2 425.9C406.0 429.3 407.8 432.0 409.6 434.0C411.4 436.0 413.2 436.9 415.0 438.0C416.8 439.1 419.2 439.8 420.4 440.7C421.6 441.6 422.1 442.9 422.4 443.4" stroke="#111" stroke-width="1.4"/>
<path d="M269.7 423.9C270.7 424.0 273.9 424.4 275.8 424.3C277.7 424.2 279.6 424.1 281.2 423.2C282.8 422.3 283.9 420.8 285.2 419.2C286.5 417.6 287.8 415.8 289.2 413.8C290.6 411.8 292.2 408.8 293.3 407.0C294.4 405.2 294.4 405.1 296.0 403.0C297.6 400.9 300.5 397.5 302.7 394.2C304.9 390.9 307.2 386.4 309.4 383.4C311.6 380.4 313.9 377.8 316.1 376.0C318.4 374.2 320.6 373.3 322.9 372.6C325.1 371.9 327.4 372.3 329.6 372.0C331.8 371.7 333.4 371.4 336.3 370.6C339.2 369.8 343.3 368.1 347.0 367.3C350.7 366.5 354.8 366.2 358.5 365.9C362.2 365.6 366.4 365.3 369.2 365.6C372.0 365.9 373.2 366.3 375.5 367.9C377.8 369.5 380.8 372.9 382.7 375.3C384.6 377.7 385.6 379.6 387.0 382.0C388.4 384.4 389.7 387.2 391.0 390.0C392.3 392.8 393.9 396.7 394.8 399.0C395.7 401.3 395.4 401.8 396.5 404.0C397.6 406.2 399.5 409.4 401.5 412.4C403.5 415.4 406.1 418.9 408.3 421.8C410.6 424.7 412.8 427.0 415.0 429.9C417.2 432.8 420.6 437.7 421.7 439.3" stroke="#9c9c9c" stroke-width="2.2"/>
<path d="M269.7 458.5C270.4 457.2 272.4 453.6 273.7 451.0C275.0 448.4 276.4 445.7 277.7 442.9C279.0 440.0 280.4 437.1 281.7 434.1C283.0 431.0 284.4 427.9 285.7 424.7C287.0 421.5 288.4 418.1 289.7 414.8C291.0 411.4 292.4 408.0 293.7 404.7C295.0 401.4 296.4 398.0 297.7 394.8C299.0 391.6 300.4 388.4 301.7 385.4C303.0 382.4 304.4 379.5 305.7 376.8C307.0 374.0 308.4 371.4 309.7 369.0C311.0 366.6 312.4 364.3 313.7 362.3C315.0 360.2 316.4 358.4 317.7 356.8C319.0 355.2 320.4 353.8 321.7 352.7C323.0 351.6 324.4 350.7 325.7 350.1C327.0 349.5 328.4 349.1 329.7 349.0C331.0 348.8 332.4 348.9 333.7 349.3C335.0 349.6 336.4 350.2 337.7 351.0C339.0 351.8 340.4 352.8 341.7 354.0C343.0 355.2 344.4 356.6 345.7 358.2C347.0 359.7 348.4 361.4 349.7 363.2C351.0 364.9 352.4 366.8 353.7 368.7C355.0 370.7 356.4 372.7 357.7 374.8C359.0 376.9 360.4 379.1 361.7 381.4C363.0 383.7 364.4 386.0 365.7 388.5C367.0 391.0 368.4 393.6 369.7 396.3C371.0 399.0 372.4 401.8 373.7 404.7C375.0 407.6 376.4 410.6 377.7 413.6C379.0 416.6 380.4 419.6 381.7 422.6C383.0 425.6 384.4 428.6 385.7 431.5C387.0 434.4 388.4 437.3 389.7 440.1C391.0 442.9 392.4 445.6 393.7 448.3C395.0 451.1 396.4 453.7 397.7 456.4C399.0 459.1 400.8 462.6 401.7 464.3C402.6 466.1 402.7 466.3 402.9 466.7" stroke="#000" stroke-width="2.9"/>
</g>
<path d="M269.6 341.7V471.9" stroke="#3a3a3a" stroke-width="1.8"/>
<path d="M265.1 467.7H269.6M265.1 452.0H269.6M265.1 436.4H269.6M265.1 420.7H269.6M265.1 405.0H269.6M265.1 389.3H269.6M265.1 373.6H269.6M265.1 358.0H269.6M265.1 342.3H269.6M269.6 467.7V471.9M308.0 467.7V471.9M346.4 467.7V471.9M384.7 467.7V471.9M423.1 467.7V471.9" stroke="#444" stroke-width="1.3"/>
<text x="257.7" y="346.1" text-anchor="end">38,0</text>
<text x="257.7" y="377.4" text-anchor="end">36,0</text>
<text x="257.7" y="408.8" text-anchor="end">34,0</text>
<text x="257.7" y="440.2" text-anchor="end">32,0</text>
<text x="257.7" y="471.5" text-anchor="end">30,0</text>
<path d="M265.1 467.7H427.1" stroke="#3a3a3a" stroke-width="1.8"/>
<path d="M423.1 342.3V471.7" stroke="#111" stroke-width="1.6"/>
<path d="M419.1 378.0H427.1M419.1 423.2H427.1" stroke="#111" stroke-width="1.6"/>
<g clip-path="url(#c22)">
<path d="M478.7 347.1C480.2 347.7 484.7 349.6 487.5 350.4C490.3 351.2 493.0 351.9 495.5 351.8C498.0 351.7 500.1 349.8 502.3 349.8C504.6 349.8 506.8 350.7 509.0 351.8C511.2 352.9 513.5 354.8 515.7 356.5C518.0 358.2 520.2 360.3 522.5 361.9C524.8 363.5 527.2 365.3 529.2 365.9C531.2 366.4 532.8 365.5 534.6 365.2C536.4 364.9 538.1 363.8 539.9 363.9C541.7 364.0 543.5 364.8 545.3 365.9C547.1 367.0 548.9 369.5 550.7 370.6C552.5 371.7 554.3 372.9 556.0 372.6C557.7 372.3 558.8 370.2 560.7 368.6C562.6 367.0 565.2 365.1 567.5 363.2C569.8 361.3 572.0 358.3 574.2 357.0C576.4 355.7 578.7 355.7 580.9 355.4C583.1 355.1 585.4 354.7 587.6 355.0C589.9 355.3 592.4 355.2 594.4 357.0C596.4 358.8 598.0 363.6 599.8 365.9C601.6 368.2 603.8 370.0 605.1 370.6C606.4 371.2 606.7 370.5 607.8 369.3C608.9 368.1 610.3 365.0 611.9 363.2C613.5 361.4 615.5 359.2 617.3 358.5C619.1 357.8 621.2 358.4 622.6 359.2C624.0 360.0 624.6 361.7 625.5 363.5C626.4 365.3 627.1 367.7 627.8 370.0C628.5 372.3 629.0 375.2 629.5 377.5C630.0 379.8 630.3 382.5 630.5 383.5" stroke="#000" stroke-width="1.25" stroke-dasharray="1.5 1.5"/>
<path d="M478.7 347.1C480.2 347.8 484.7 350.2 487.5 351.1C490.3 352.0 493.0 351.8 495.5 352.5C498.0 353.2 500.1 353.2 502.3 355.2C504.6 357.2 506.8 361.2 509.0 364.6C511.2 368.0 513.5 371.9 515.7 375.3C518.0 378.7 520.2 381.7 522.5 384.8C524.8 387.9 527.0 391.5 529.2 394.2C531.4 396.9 533.7 399.4 535.9 400.9C538.1 402.3 540.4 403.1 542.6 402.9C544.9 402.7 547.5 401.3 549.4 399.6C551.3 397.9 552.6 395.7 554.0 392.8C555.4 389.9 556.6 385.7 558.0 382.1C559.4 378.5 560.5 374.7 562.1 371.3C563.7 367.9 565.5 364.4 567.5 361.9C569.5 359.4 572.0 357.7 574.2 356.5C576.4 355.3 578.7 355.2 580.9 354.9C583.1 354.6 585.4 354.2 587.6 354.5C589.9 354.8 592.4 355.4 594.4 356.5C596.4 357.6 598.0 359.8 599.8 361.2C601.6 362.6 603.3 364.5 605.1 364.6C606.9 364.7 608.7 363.0 610.5 361.9C612.3 360.8 614.1 358.2 615.9 357.8C617.7 357.4 619.5 358.1 621.3 359.2C623.1 360.3 625.1 362.8 626.7 364.6C628.3 366.4 630.0 369.1 630.7 370.0" stroke="#9c9c9c" stroke-width="2.2"/>
<path d="M478.7 347.1C480.2 347.4 484.9 348.2 487.5 349.1C490.1 350.0 492.0 351.5 494.2 352.5C496.4 353.5 498.9 353.6 500.9 355.2C502.9 356.8 504.5 359.0 506.3 361.9C508.1 364.8 510.1 369.2 511.7 372.6C513.3 376.0 514.6 378.7 515.7 382.1C516.8 385.5 517.6 389.4 518.4 392.8C519.2 396.2 519.5 397.9 520.4 402.3C521.3 406.7 522.8 414.6 523.8 419.2C524.8 423.8 525.4 425.9 526.5 429.9C527.6 433.9 529.1 439.1 530.5 443.4C531.9 447.7 533.0 452.5 534.6 455.5C536.2 458.5 538.3 461.7 539.9 461.5C541.5 461.3 542.9 457.4 544.0 454.1C545.1 450.9 545.8 446.2 546.7 442.0C547.6 437.8 548.5 432.9 549.4 428.6C550.3 424.4 551.1 420.9 552.1 416.5C553.1 412.1 554.1 406.7 555.3 402.3C556.5 397.9 558.0 394.6 559.4 390.1C560.8 385.6 561.8 379.8 563.4 375.3C565.0 370.8 566.8 366.3 568.8 363.2C570.8 360.1 573.5 357.9 575.5 356.5C577.5 355.1 579.1 354.3 580.9 354.5C582.7 354.7 584.3 356.6 586.3 357.8C588.3 359.0 590.8 361.4 593.0 361.9C595.2 362.3 597.3 361.4 599.8 360.5C602.3 359.6 605.1 357.4 607.8 356.5C610.5 355.6 613.4 355.3 615.9 355.2C618.4 355.1 620.2 355.4 622.6 355.8C625.0 356.2 629.2 357.5 630.5 357.8" stroke="#111" stroke-width="1.6" stroke-dasharray="4.6 3.6"/>
<path d="M478.7 347.1C480.2 347.9 484.9 350.7 487.5 351.8C490.1 352.9 492.0 353.0 494.2 353.8C496.4 354.6 498.9 355.1 500.9 356.5C502.9 357.9 504.5 359.4 506.3 361.9C508.1 364.4 509.9 368.6 511.7 371.3C513.5 374.0 515.1 376.3 517.1 378.0C519.1 379.7 521.3 380.5 523.8 381.4C526.3 382.3 529.2 382.8 531.9 383.4C534.6 384.0 537.7 383.9 539.9 384.8C542.1 385.7 543.5 386.8 545.3 388.8C547.1 390.8 549.2 395.5 550.7 396.9C552.2 398.3 552.8 399.0 554.0 397.0C555.2 395.0 556.6 388.9 558.0 384.8C559.4 380.7 560.5 376.2 562.1 372.6C563.7 369.0 565.5 365.7 567.5 363.2C569.5 360.7 572.0 359.1 574.2 357.8C576.4 356.5 578.9 356.3 580.9 355.2C582.9 354.1 584.5 352.0 586.3 351.1C588.1 350.2 589.9 349.4 591.7 349.8C593.5 350.2 595.5 352.0 597.1 353.8C598.7 355.6 599.8 358.5 601.1 360.5C602.4 362.5 603.8 364.9 605.1 365.9C606.5 366.9 607.9 366.9 609.2 366.6C610.6 366.3 611.6 364.6 613.2 363.9C614.8 363.2 616.6 362.5 618.6 362.6C620.6 362.7 623.3 364.2 625.3 364.6C627.3 365.0 629.6 365.1 630.5 365.2" stroke="#111" stroke-width="1.4"/>
<path d="M478.7 374.4C479.4 374.7 481.4 375.4 482.7 376.2C484.0 376.9 485.4 378.0 486.7 379.1C488.0 380.3 489.4 381.7 490.7 383.1C492.0 384.6 493.4 386.3 494.7 388.0C496.0 389.8 497.4 391.7 498.7 393.6C500.0 395.6 501.4 397.7 502.7 399.7C504.0 401.8 505.4 404.0 506.7 406.2C508.0 408.4 509.4 410.6 510.7 412.8C512.0 415.0 513.4 417.2 514.7 419.3C516.0 421.5 517.4 423.6 518.7 425.7C520.0 427.7 521.4 429.8 522.7 431.7C524.0 433.6 525.4 435.5 526.7 437.2C528.0 438.9 529.4 440.6 530.7 442.1C532.0 443.7 533.4 445.1 534.7 446.4C536.0 447.7 537.4 448.9 538.7 449.9C540.0 450.9 541.4 451.7 542.7 452.4C544.0 453.1 545.4 453.6 546.7 454.0C548.0 454.3 549.4 454.4 550.7 454.4C552.0 454.3 553.4 454.0 554.7 453.6C556.0 453.1 557.4 452.3 558.7 451.4C560.0 450.5 561.4 449.3 562.7 448.0C564.0 446.7 565.4 445.2 566.7 443.6C568.0 442.0 569.4 440.2 570.7 438.3C572.0 436.5 573.4 434.5 574.7 432.4C576.0 430.4 577.4 428.2 578.7 426.1C580.0 423.9 581.4 421.7 582.7 419.4C584.0 417.2 585.4 415.0 586.7 412.8C588.0 410.6 589.4 408.4 590.7 406.3C592.0 404.1 593.4 402.1 594.7 400.1C596.0 398.1 597.4 396.2 598.7 394.3C600.0 392.5 601.4 390.7 602.7 389.0C604.0 387.2 605.4 385.5 606.7 383.9C608.0 382.3 609.4 380.7 610.7 379.1C612.0 377.6 613.4 376.1 614.7 374.6C616.0 373.2 617.4 371.7 618.7 370.4C620.0 369.1 621.4 367.9 622.7 366.9C624.0 366.0 625.4 365.1 626.7 364.6C628.0 364.1 630.0 363.9 630.7 363.7C631.4 363.6 631.0 363.7 631.0 363.7" stroke="#000" stroke-width="2.9"/>
</g>
<path d="M477.9 341.7V471.9" stroke="#3a3a3a" stroke-width="1.8"/>
<path d="M473.4 467.7H477.9M473.4 452.0H477.9M473.4 436.4H477.9M473.4 420.7H477.9M473.4 405.0H477.9M473.4 389.3H477.9M473.4 373.6H477.9M473.4 358.0H477.9M473.4 342.3H477.9M477.9 467.7V471.9M516.2 467.7V471.9M554.5 467.7V471.9M592.7 467.7V471.9M631.0 467.7V471.9" stroke="#444" stroke-width="1.3"/>
<text x="466.0" y="346.1" text-anchor="end">38,0</text>
<text x="466.0" y="377.4" text-anchor="end">36,0</text>
<text x="466.0" y="408.8" text-anchor="end">34,0</text>
<text x="466.0" y="440.2" text-anchor="end">32,0</text>
<text x="466.0" y="471.5" text-anchor="end">30,0</text>
<path d="M473.4 467.7H635.0" stroke="#3a3a3a" stroke-width="1.8"/>
<path d="M631.0 342.3V471.7" stroke="#111" stroke-width="1.6"/>
<text x="642.5" y="363.9">1,6</text>
<text x="642.5" y="399.7">1,2</text>
<text x="642.5" y="435.6">0,8</text>
<text x="642.5" y="471.4">0,4</text>
<text transform="translate(677.6 405.0) rotate(-90)" text-anchor="middle" style="font-size:13.3px">Tidal height (m)</text>
<path d="M627.0 342.3H635.0M627.0 360.2H635.0M627.0 378.1H635.0M627.0 396.0H635.0M627.0 414.0H635.0M627.0 431.9H635.0M627.0 449.8H635.0M627.0 467.7H635.0" stroke="#111" stroke-width="1.6"/>
<text transform="translate(10.9 78.5) rotate(-90)" text-anchor="middle" style="font-size:13.3px">Temperatute (°C)</text>
<text transform="translate(10.9 241.3) rotate(-90)" text-anchor="middle" style="font-size:13.3px">pH</text>
<text transform="translate(10.9 404.5) rotate(-90)" text-anchor="middle" style="font-size:13.3px">Salinity (‰)</text>
<text x="137.2" y="485.6" text-anchor="middle" style="font-size:13.3px">Time (12h period)</text>
<text x="346.4" y="485.6" text-anchor="middle" style="font-size:13.3px">Time (12h period)</text>
<text x="554.5" y="485.6" text-anchor="middle" style="font-size:13.3px">Time (12h period)</text>
</svg></body></html>
